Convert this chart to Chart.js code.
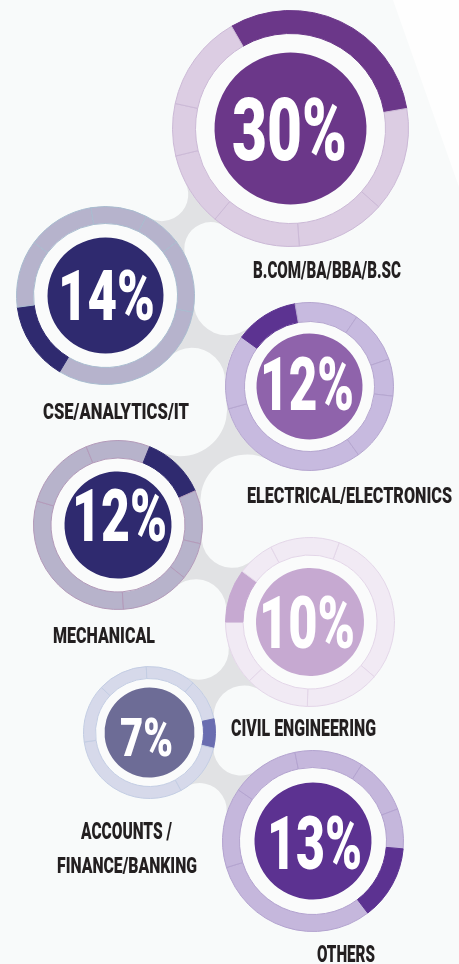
<!DOCTYPE html>
<html><head><meta charset="utf-8">
<script src="https://cdn.jsdelivr.net/npm/chart.js@4.4.1/dist/chart.umd.min.js"></script>
<style>
html,body{margin:0;padding:0;}
body{width:459px;height:964px;position:relative;overflow:hidden;background:#f8fafa;font-family:Roboto,"Open Sans",sans-serif;}
#wedge{position:absolute;left:0;top:0;width:459px;height:964px;background:#fefefe;clip-path:polygon(393px 0,459px 0,459px 187px);}
#bg{position:absolute;left:0;top:0;}
.ring{position:absolute;}
.txt{position:absolute;white-space:nowrap;line-height:1;transform-origin:0 0;}
</style></head><body>
<div id="wedge"></div>
<canvas id="bg" width="459" height="964"></canvas>
<script>
// ---- data ----
const categories = ['B.COM/BA/BBA/B.SC', 'CSE/ANALYTICS/IT', 'ELECTRICAL/ELECTRONICS', 'MECHANICAL', 'CIVIL ENGINEERING', 'ACCOUNTS /\nFINANCE/BANKING', 'OTHERS'];
const shares = [30, 14, 12, 12, 10, 7, 13];
const shareLabels = ['30%', '14%', '12%', '12%', '10%', '7%', '13%'];

// ---- layout / styling (not data) ----
const layout = [
  {cx:290, cy:128, ro:118, ri:95, rc:76, start:-30, hl:'#6b3789', lt:'#dccde3', sep:'#cbb9d6', core:'#6b3789',
   pct:{x:232, y:98, h:62, w:115}, lab:[{x:253, y:262, h:17, w:148}]},
  {cx:105, cy:295, ro:89, ri:72, rc:58, start:211, hl:'#2f2a6f', lt:'#b6b3cc', sep:'#a9bccf', core:'#2f2a6f',
   pct:{x:58, y:270, h:50, w:97}, lab:[{x:43, y:403, h:16, w:146}]},
  {cx:309, cy:386, ro:84, ri:65, rc:53, start:306, hl:'#5c3391', lt:'#c7badf', sep:'#b5a6cf', core:'#8f63ab',
   pct:{x:260, y:358, h:53, w:94}, lab:[{x:247, y:487, h:16, w:205}]},
  {cx:118, cy:525, ro:84.5, ri:67, rc:53.5, start:22, hl:'#2f2a6f', lt:'#b7b3cb', sep:'#b39ab9', core:'#2f2a6f',
   pct:{x:72, y:490, h:52, w:95}, lab:[{x:53, y:627, h:16, w:102}]},
  {cx:310, cy:622, ro:84.5, ri:67, rc:54, start:270, hl:'#c6a9d1', lt:'#f1eaf4', sep:'#e3d6e8', core:'#c6a9d1',
   pct:{x:259, y:597, h:52, w:96}, lab:[{x:231, y:720, h:17, w:145}]},
  {cx:149, cy:732, ro:66, ri:54, rc:45, start:78, hl:'#6a6db0', lt:'#d6d9ea', sep:'#c3cde3', core:'#6d6c96',
   pct:{x:120, y:718, h:38, w:53}, lab:[{x:81, y:823, h:17, w:91}, {x:57, y:857, h:16, w:140}]},
  {cx:313, cy:841, ro:90.5, ri:73.5, rc:58.5, start:95, hl:'#5c3291', lt:'#c5b7dc', sep:'#b3a3cf', core:'#5c3291',
   pct:{x:267, y:817, h:53, w:95}, lab:[{x:317, y:946, h:17, w:58}]}
];

const total = shares.reduce((a,b)=>a+b,0);
const cum = shares.map((_,i)=>shares.slice(0,i).reduce((a,b)=>a+b,0));

// ---- decorative connectors on background ----
const bg = document.getElementById('bg').getContext('2d');
function connector(A, B, neckHalf){
  const dx = B.cx-A.cx, dy = B.cy-A.cy, d = Math.hypot(dx,dy);
  const ux = dx/d, uy = dy/d, px = -uy, py = ux;
  function geo(rc){
    const a = A.ro+rc, b = B.ro+rc;
    const x = (d*d + a*a - b*b)/(2*d);
    const h = Math.sqrt(Math.max(a*a - x*x, 0));
    return {x, h};
  }
  let lo = (d - A.ro - B.ro)/2 + 0.01, hi = 3000;
  for (let k=0;k<80;k++){
    const m=(lo+hi)/2; const g=geo(m);
    if (g.h - m < neckHalf) lo=m; else hi=m;
  }
  const rc=(lo+hi)/2, g=geo(rc);
  bg.beginPath();
  bg.moveTo(A.cx, A.cy);
  [1,-1].forEach((s, idx)=>{
    const c = {x:A.cx+ux*g.x+px*g.h*s, y:A.cy+uy*g.x+py*g.h*s};
    const P = idx===0 ? A : B, Q = idx===0 ? B : A;
    const tP = {x:P.cx+(c.x-P.cx)*P.ro/(P.ro+rc), y:P.cy+(c.y-P.cy)*P.ro/(P.ro+rc)};
    const tQ = {x:Q.cx+(c.x-Q.cx)*Q.ro/(Q.ro+rc), y:Q.cy+(c.y-Q.cy)*Q.ro/(Q.ro+rc)};
    const a1 = Math.atan2(tP.y-c.y, tP.x-c.x), a2 = Math.atan2(tQ.y-c.y, tQ.x-c.x);
    let del = a2-a1; while(del>Math.PI) del-=2*Math.PI; while(del<=-Math.PI) del+=2*Math.PI;
    bg.lineTo(tP.x, tP.y);
    bg.arc(c.x, c.y, rc, a1, a2, del<0);
    bg.lineTo(Q.cx, Q.cy);
  });
  bg.closePath();
  bg.fillStyle = '#e1e2e4';
  bg.fill();
}
for (let i=0;i<layout.length-1;i++) connector(layout[i], layout[i+1], 10);
layout.forEach(L=>{ bg.beginPath(); bg.arc(L.cx, L.cy, L.ro, 0, Math.PI*2); bg.fillStyle='#fafbfb'; bg.fill(); });

// ---- rings (Chart.js doughnuts) ----
layout.forEach((L, i)=>{
  const S = Math.round(2*L.ro + 1);
  const cv = document.createElement('canvas');
  cv.className='ring'; cv.width=S; cv.height=S;
  cv.style.left = (L.cx - S/2)+'px'; cv.style.top = (L.cy - S/2)+'px';
  cv.style.width=S+'px'; cv.style.height=S+'px';
  document.body.appendChild(cv);
  new Chart(cv, {
    type:'doughnut',
    data:{labels:categories, datasets:[
      {data:shares, backgroundColor:shares.map((_,j)=>j===i?L.hl:L.lt), borderColor:shares.map((_,j)=>j===i?L.hl:L.sep), borderWidth:1, hoverBorderWidth:1, weight:L.ro-L.ri},
      {data:[shares[i]], backgroundColor:'rgba(0,0,0,0)', borderWidth:0, hoverBorderWidth:0, weight:L.ri-L.rc},
      {data:[shares[i]], backgroundColor:L.core, borderColor:L.core, borderWidth:0, hoverBorderWidth:0, weight:L.rc}
    ]},
    options:{responsive:false, animation:false, cutout:0, rotation:L.start - cum[i]*360/total,
      hoverOffset:0, offset:0, events:[], layout:{padding:0},
      plugins:{legend:{display:false}, tooltip:{enabled:false}}}
  });
});

// ---- text ----
function placeText(str, box, color){
  const fs = box.h/0.711;
  const el = document.createElement('div');
  el.className='txt'; el.textContent=str;
  el.style.fontSize=fs+'px'; el.style.color=color; el.style.fontWeight='900';
  el.style.left=box.x+'px'; el.style.top=(box.y - 0.1308*fs)+'px';
  document.body.appendChild(el);
  const w = el.getBoundingClientRect().width;
  el.style.transform='scaleX('+(box.w/w)+')';
}
layout.forEach((L,i)=>{
  placeText(shareLabels[i], L.pct, '#ffffff');
  categories[i].split('\n').forEach((line,k)=>placeText(line, L.lab[k], '#231f20'));
});
</script>
</body></html>
